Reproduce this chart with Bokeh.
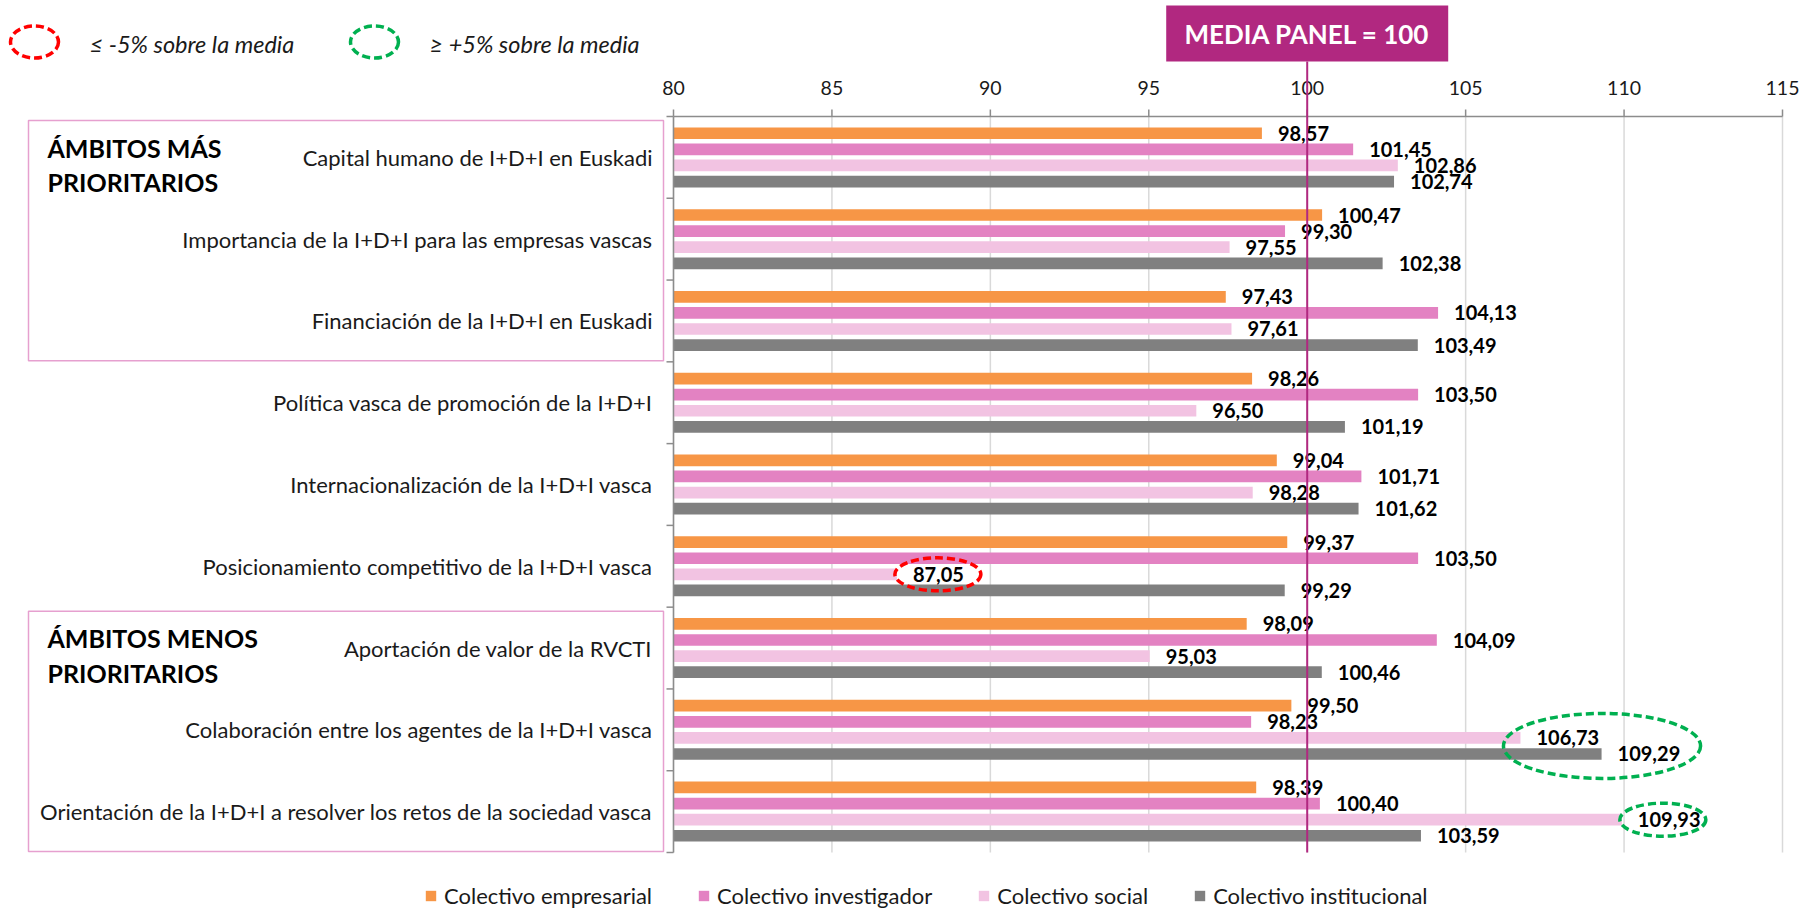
from bokeh.plotting import figure
from bokeh.models import Range1d, Legend, LegendItem, ColumnDataSource
from bokeh.transform import dodge
from bokeh.core.properties import value
from bokeh.embed import file_html
from bokeh.resources import INLINE

# ---------------- data ----------------
categories = [
    "Capital humano de I+D+I en Euskadi",
    "Importancia de la I+D+I para las empresas vascas",
    "Financiación de la I+D+I en Euskadi",
    "Política vasca de promoción de la I+D+I",
    "Internacionalización de la I+D+I vasca",
    "Posicionamiento competitivo de la I+D+I vasca",
    "Aportación de valor de la RVCTI",
    "Colaboración entre los agentes de la I+D+I vasca",
    "Orientación de la I+D+I a resolver los retos de la sociedad vasca",
]
series_names = ["Colectivo empresarial", "Colectivo investigador",
                "Colectivo social", "Colectivo institucional"]
empresarial = [98.57, 100.47, 97.43, 98.26, 99.04, 99.37, 98.09, 99.50, 98.39]
investigador = [101.45, 99.30, 104.13, 103.50, 101.71, 103.50, 104.09, 98.23, 100.40]
social = [102.86, 97.55, 97.61, 96.50, 98.28, 87.05, 95.03, 106.73, 109.93]
institucional = [102.74, 102.38, 103.49, 101.19, 101.62, 99.29, 100.46, 109.29, 103.59]
x_ticks = [80, 85, 90, 95, 100, 105, 110, 115]
panel_mean = 100
low_limit = 95    # <= -5% sobre la media
high_limit = 105  # >= +5% sobre la media
legend_texts = ["≤ -5% sobre la media", "≥ +5% sobre la media"]
group_headers = [("ÁMBITOS MÁS", "PRIORITARIOS", 0, 2),
                 ("ÁMBITOS MENOS", "PRIORITARIOS", 6, 8)]

# ---------------- styles / geometry ----------------
colors = ["#F79646", "#E382C2", "#F2C3E2", "#808080"]
PURPLE = "#B12880"
AXIS = "#8C8C8C"
GRID = "#D9D9D9"
TXT = "#1A1A1A"
FONT = "Lato"
W, H = 1812, 910
XMIN, XMAX = 80, 115
FX0, FX1 = 673, 1782          # pixels of XMIN / XMAX
FY0, FY1 = 116, 852           # pixels of plot-area top / bottom
NC = len(categories)
PXU = (FX1 - FX0) / (XMAX - XMIN)
PYU = (FY1 - FY0) / NC
TOP, BOT = -0.5, NC - 0.5


def X(px):   # pixel -> data x (decorations only)
    return XMIN + (px - FX0) / PXU


def Y(py):   # pixel -> data y (flipped range)
    return TOP + (py - FY0) / PYU


series = [empresarial, investigador, social, institucional]
keys = ["emp", "inv", "soc", "ins"]
step = 0.197
offsets = [(j - 1.5) * step for j in range(4)]

data = dict(y=list(range(NC)), cat=categories)
for k, s in zip(keys, series):
    data[k] = s
    data[k + "_lbl"] = [f"{v:.2f}".replace(".", ",") for v in s]
src = ColumnDataSource(data)

p = figure(width=W, height=H, x_range=Range1d(X(0), X(W)),
           y_range=Range1d(Y(H), Y(0)), title=None,
           output_backend="svg", toolbar_location=None,
           x_axis_type=None, y_axis_type=None,
           min_border_left=0, min_border_right=0,
           min_border_top=0, min_border_bottom=0)
p.outline_line_color = None
p.background_fill_color = "white"
p.border_fill_color = "white"
p.xgrid.visible = False
p.ygrid.visible = False

nt = len(x_ticks)
# vertical grid lines
p.segment(x0=x_ticks, y0=[TOP] * nt, x1=x_ticks, y1=[BOT] * nt,
          line_color=GRID, line_width=1.5)

# bars + value labels
renderers = []
for k, off, col in zip(keys, offsets, colors):
    r = p.hbar(y=dodge("y", off, range=p.y_range), left=XMIN, right=k,
               height=0.143, source=src, fill_color=col, line_color=None)
    renderers.append(r)
    p.text(x=k, y=dodge("y", off, range=p.y_range), text=k + "_lbl", source=src,
           x_offset=16, text_baseline="middle", text_align="left",
           text_font=value(FONT), text_font_style="bold",
           text_font_size="20px", text_color="black")

# top x axis: line, ticks, labels
p.segment(x0=[XMIN], y0=[TOP], x1=[XMAX], y1=[TOP], line_color=AXIS, line_width=1.5)
p.segment(x0=x_ticks, y0=[TOP] * nt, x1=x_ticks, y1=[TOP - 7 / PYU] * nt,
          line_color=AXIS, line_width=1.5)
p.text(x=x_ticks, y=[TOP] * nt, text=[str(t) for t in x_ticks], y_offset=-29,
       text_align="center", text_baseline="middle", text_font=value(FONT),
       text_font_size="19.5px", text_color=TXT)

# left y axis: line, boundary ticks, category labels
bounds = [i - 0.5 for i in range(NC + 1)]
p.segment(x0=[XMIN], y0=[TOP], x1=[XMIN], y1=[BOT], line_color=AXIS, line_width=1.5)
p.segment(x0=[XMIN] * len(bounds), y0=bounds, x1=[XMIN - 7 / PXU] * len(bounds),
          y1=bounds, line_color=AXIS, line_width=1.5)
p.text(x=XMIN, y="y", text="cat", source=src, x_offset=-21,
       text_align="right", text_baseline="middle", text_font=value(FONT),
       text_font_size="22px", text_color=TXT)

# highlight ellipses around labels of values beyond +-5 %
ell = dict(x=[], y=[], w=[], h=[], c=[])
for i in range(NC):
    for kind, col in (("low", "#FF0000"), ("high", "#00B050")):
        idx = [j for j in range(4)
               if (series[j][i] <= low_limit if kind == "low"
                   else series[j][i] >= high_limit)]
        if not idx:
            continue
        n = len(idx)
        lefts = [series[j][i] + 16 / PXU for j in idx]
        rights = [series[j][i] + (16 + 56) / PXU for j in idx]
        ell["x"].append((min(lefts) + max(rights)) / 2 - 3 / PXU)
        ell["y"].append(i + sum(offsets[j] for j in idx) / n)
        ell["w"].append((max(rights) - min(lefts)) * PXU + (60 if n > 1 else 30))
        ell["h"].append(33 + 32 * (n - 1))
        ell["c"].append(col)
p.ellipse(x="x", y="y", width="w", height="h", width_units="screen",
          height_units="screen", source=ColumnDataSource(ell), fill_color=None,
          line_color="c", line_width=3.5, line_dash="8 4")

# media panel line + box
p.segment(x0=[panel_mean], y0=[Y(61)], x1=[panel_mean], y1=[BOT],
          line_color=PURPLE, line_width=2)
p.quad(left=[panel_mean - 141 / PXU], right=[panel_mean + 141 / PXU],
       top=[Y(5)], bottom=[Y(61)], fill_color=PURPLE, line_color=None)
p.text(x=[panel_mean], y=[Y(33)], text=[f"MEDIA PANEL = {panel_mean}"],
       text_align="center", text_baseline="middle", text_font=value(FONT),
       text_font_style="bold", text_font_size="26px", text_color="white")

# group boxes + headers
for h1, h2, a, b in group_headers:
    top = a - 0.5 + 4 / PYU
    bot = b + 0.5 - 1 / PYU
    p.quad(left=[X(28)], right=[X(663)], top=[top], bottom=[bot],
           fill_color=None, line_color="#E6A0CF", line_width=1.5)
    p.text(x=[X(47)] * 2, y=[top + 27 / PYU, top + 61.5 / PYU], text=[h1, h2],
           text_align="left", text_baseline="middle", text_font=value(FONT),
           text_font_style="bold", text_font_size="25px", text_color="black")

# top legend (dashed ellipses)
p.ellipse(x=[X(34), X(374)], y=[Y(41.5)] * 2, width=48, height=32,
          width_units="screen", height_units="screen", fill_color=None,
          line_color=["#FF0000", "#00B050"], line_width=3.5, line_dash="8 4")
p.text(x=[X(89), X(429)], y=[Y(43)] * 2, text=legend_texts,
       text_align="left", text_baseline="middle", text_font=value(FONT),
       text_font_style="italic", text_font_size="23.5px", text_color=TXT)

# bottom legend
legend = Legend(items=[LegendItem(label=n, renderers=[r])
                       for n, r in zip(series_names, renderers)],
                orientation="horizontal", location=(424, 1),
                background_fill_alpha=0, border_line_color=None,
                padding=0, margin=0, spacing=45, glyph_width=13, glyph_height=13,
                label_standoff=7, label_text_font=FONT,
                label_text_font_size="22px", label_text_color=TXT)
p.add_layout(legend)

open("out.html", "w").write(file_html(p, INLINE))
